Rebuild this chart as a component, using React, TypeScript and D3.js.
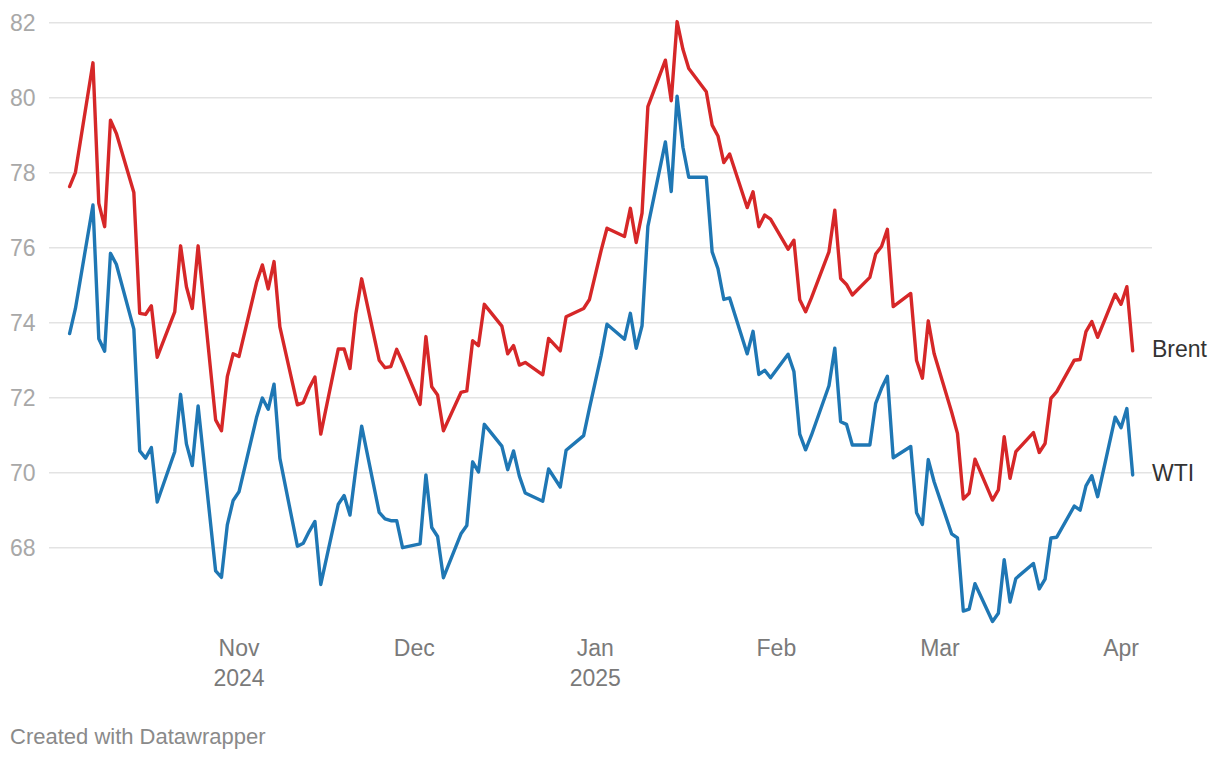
import { useEffect, useRef } from "react";
import * as d3 from "d3";

// trading days shown on the chart
const dates = [
  "2024-10-03", "2024-10-04", "2024-10-07", "2024-10-08", "2024-10-09", "2024-10-10", "2024-10-11",
  "2024-10-14", "2024-10-15", "2024-10-16", "2024-10-17", "2024-10-18", "2024-10-21", "2024-10-22",
  "2024-10-23", "2024-10-24", "2024-10-25", "2024-10-28", "2024-10-29", "2024-10-30", "2024-10-31",
  "2024-11-01", "2024-11-04", "2024-11-05", "2024-11-06", "2024-11-07", "2024-11-08", "2024-11-11",
  "2024-11-12", "2024-11-13", "2024-11-14", "2024-11-15", "2024-11-18", "2024-11-19", "2024-11-20",
  "2024-11-21", "2024-11-22", "2024-11-25", "2024-11-26", "2024-11-27", "2024-11-28", "2024-11-29",
  "2024-12-02", "2024-12-03", "2024-12-04", "2024-12-05", "2024-12-06", "2024-12-09", "2024-12-10",
  "2024-12-11", "2024-12-12", "2024-12-13", "2024-12-16", "2024-12-17", "2024-12-18", "2024-12-19",
  "2024-12-20", "2024-12-23", "2024-12-24", "2024-12-26", "2024-12-27", "2024-12-30", "2024-12-31",
  "2025-01-02", "2025-01-03", "2025-01-06", "2025-01-07", "2025-01-08", "2025-01-09", "2025-01-10",
  "2025-01-13", "2025-01-14", "2025-01-15", "2025-01-16", "2025-01-17", "2025-01-20", "2025-01-21",
  "2025-01-22", "2025-01-23", "2025-01-24", "2025-01-27", "2025-01-28", "2025-01-29", "2025-01-30",
  "2025-01-31", "2025-02-03", "2025-02-04", "2025-02-05", "2025-02-06", "2025-02-07", "2025-02-10",
  "2025-02-11", "2025-02-12", "2025-02-13", "2025-02-14", "2025-02-17", "2025-02-18", "2025-02-19",
  "2025-02-20", "2025-02-21", "2025-02-24", "2025-02-25", "2025-02-26", "2025-02-27", "2025-02-28",
  "2025-03-03", "2025-03-04", "2025-03-05", "2025-03-06", "2025-03-07", "2025-03-10", "2025-03-11",
  "2025-03-12", "2025-03-13", "2025-03-14", "2025-03-17", "2025-03-18", "2025-03-19", "2025-03-20",
  "2025-03-21", "2025-03-24", "2025-03-25", "2025-03-26", "2025-03-27", "2025-03-28", "2025-03-31",
  "2025-04-01", "2025-04-02", "2025-04-03",
];

const brent = [
  77.63, 78.01, 80.93, 77.18, 76.56, 79.4, 79.05, 77.47, 74.25, 74.22, 74.45, 73.08, 74.29, 76.05,
  74.96, 74.38, 76.05, 71.41, 71.12, 72.56, 73.17,
  73.1, 75.07, 75.54, 74.9, 75.63, 73.89, 71.81, 71.87, 72.25, 72.55, 71.03, 73.3, 73.3, 72.78,
  74.23, 75.17, 73.0, 72.8, 72.83, 73.29, 72.94,
  71.82, 73.63, 72.29, 72.07, 71.12, 72.14, 72.18, 73.52, 73.39, 74.49, 73.91, 73.17, 73.39, 72.87,
  72.94, 72.61, 73.58, 73.25, 74.16, 74.38, 74.62,
  75.93, 76.52, 76.3, 77.05, 76.14, 76.92, 79.76, 81.0, 79.92, 82.03, 81.29, 80.78, 80.16, 79.27,
  78.98, 78.27, 78.5, 77.07, 77.49, 76.56, 76.87, 76.76,
  75.96, 76.2, 74.61, 74.29, 74.66, 75.89, 77.0, 75.18, 75.02, 74.74, 75.21, 75.83, 76.03, 76.49,
  74.43, 74.78, 72.99, 72.52, 74.05, 73.18,
  71.62, 71.05, 69.3, 69.45, 70.36, 69.27, 69.54, 70.96, 69.85, 70.56, 71.07, 70.54, 70.78, 71.98,
  72.16, 73.0, 73.02, 73.76, 74.03, 73.61, 74.76,
  74.49, 74.96, 73.25,
];

const wti = [
  73.71, 74.38, 77.14, 73.57, 73.24, 75.85, 75.56, 73.83, 70.58, 70.39, 70.67, 69.22, 70.56, 72.09,
  70.77, 70.19, 71.78, 67.38, 67.21, 68.61, 69.26,
  69.49, 71.47, 71.99, 71.69, 72.36, 70.38, 68.04, 68.12, 68.43, 68.7, 67.02, 69.16, 69.39, 68.87,
  70.1, 71.24, 68.94, 68.77, 68.72, 68.72, 68.0,
  68.1, 69.94, 68.54, 68.3, 67.2, 68.37, 68.59, 70.29, 70.02, 71.29, 70.71, 70.08, 70.58, 69.91,
  69.46, 69.24, 70.1, 69.62, 70.6, 70.99, 71.72,
  73.13, 73.96, 73.56, 74.25, 73.32, 73.92, 76.57, 78.82, 77.5, 80.04, 78.68, 77.88, 77.88, 75.89,
  75.44, 74.62, 74.66, 73.17, 73.77, 72.62, 72.73, 72.53,
  73.16, 72.7, 71.03, 70.61, 71.0, 72.32, 73.32, 71.36, 71.29, 70.74, 70.74, 71.85, 72.25, 72.57,
  70.4, 70.7, 68.93, 68.62, 70.35, 69.76,
  68.37, 68.26, 66.31, 66.36, 67.04, 66.03, 66.25, 67.68, 66.55, 67.18, 67.58, 66.9, 67.16, 68.26,
  68.28, 69.11, 69.0, 69.65, 69.92, 69.36, 71.48,
  71.2, 71.71, 69.94,
];

const yTicks = [68, 70, 72, 74, 76, 78, 80, 82];
const monthTicks = ["2024-11-01", "2024-12-01", "2025-01-01", "2025-02-01", "2025-03-01", "2025-04-01"];
const monthLabels = ["Nov", "Dec", "Jan", "Feb", "Mar", "Apr"];
const yearLabels = ["2024", "", "2025", "", "", ""];

const seriesNames = ["Brent", "WTI"];
const seriesColors = ["#d62728", "#1f77b4"];

const FONT = "'Liberation Sans', Arial, Helvetica, sans-serif";

function App() {
  const svgRef = useRef<SVGSVGElement | null>(null);

  useEffect(() => {
    const width = 1220;
    const height = 760;
    const parse = d3.timeParse("%Y-%m-%d");
    const days = dates.map((d) => parse(d) as Date);

    const x = d3.scaleTime()
      .domain([days[0], days[days.length - 1]])
      .range([69.6, 1132.7]);
    const y = d3.scaleLinear().domain([68, 82]).range([547.7, 22.7]);

    const svg = d3.select(svgRef.current)
      .attr("width", width)
      .attr("height", height)
      .style("font-family", FONT);

    svg.selectAll("*").remove();

    // grid lines + y labels
    const grid = svg.append("g");
    grid.selectAll("line")
      .data(yTicks)
      .enter()
      .append("line")
      .attr("x1", 49)
      .attr("x2", 1152)
      .attr("y1", (d) => y(d))
      .attr("y2", (d) => y(d))
      .attr("stroke", "#e3e3e3")
      .attr("stroke-width", 1.5);

    grid.selectAll("text")
      .data(yTicks)
      .enter()
      .append("text")
      .attr("x", 10)
      .attr("y", (d) => y(d) + 8.2)
      .attr("fill", "#a8a8a8")
      .style("font-size", "23px")
      .text((d) => d);

    // x axis labels
    const xAxis = svg.append("g");
    const tickItems = xAxis.selectAll("g")
      .data(monthTicks)
      .enter()
      .append("g")
      .attr("transform", (d) => `translate(${x(parse(d) as Date)},0)`);

    tickItems.append("text")
      .attr("y", 656)
      .attr("text-anchor", "middle")
      .attr("fill", "#7a7a7a")
      .style("font-size", "23px")
      .text((_, i) => monthLabels[i]);

    tickItems.append("text")
      .attr("y", 686)
      .attr("text-anchor", "middle")
      .attr("fill", "#7a7a7a")
      .style("font-size", "23px")
      .text((_, i) => yearLabels[i]);

    // lines
    const values = [brent, wti];
    const line = d3.line<number>()
      .x((_, i) => x(days[i]))
      .y((d) => y(d));

    values.forEach((vals, s) => {
      svg.append("path")
        .datum(vals)
        .attr("d", line)
        .attr("fill", "none")
        .attr("stroke", seriesColors[s])
        .attr("stroke-width", 3.4)
        .attr("stroke-linejoin", "round")
        .attr("stroke-linecap", "round");

      svg.append("text")
        .attr("x", 1152)
        .attr("y", y(vals[vals.length - 1]) + 6)
        .attr("fill", "#333")
        .style("font-size", "23px")
        .text(seriesNames[s]);
    });

    svg.append("text")
      .attr("x", 10)
      .attr("y", 744)
      .attr("fill", "#8a8a8a")
      .style("font-size", "22px")
      .text("Created with Datawrapper");
  }, []);

  return (
    <div style={{ position: "absolute", left: 0, top: 0, background: "#fff" }}>
      <svg ref={svgRef} width={1220} height={760}></svg>
    </div>
  );
}

export default App;
